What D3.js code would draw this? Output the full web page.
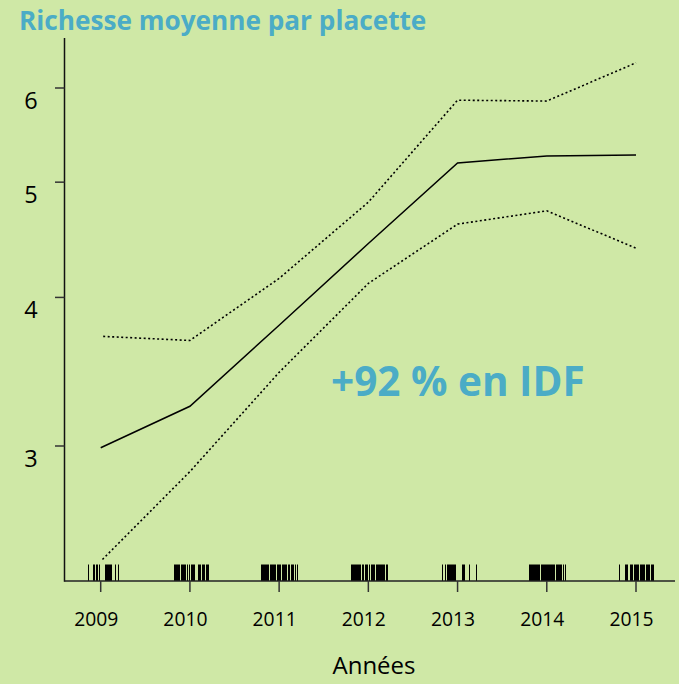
<!DOCTYPE html>
<html>
<head>
<meta charset="utf-8">
<script src="https://cdn.jsdelivr.net/npm/d3@7"></script>
<style>
  html, body { margin: 0; padding: 0; background: #cfe8a6; }
  svg { display: block; }
</style>
</head>
<body>
<svg id="chart" width="679" height="684"></svg>
<script>
// ---- data ----
const years = [2009, 2010, 2011, 2012, 2013, 2014, 2015];
const meanRichness = [2.99, 3.24, 3.79, 4.44, 5.19, 5.26, 5.27];
const upperBound  = [3.71, 3.68, 4.15, 4.81, 5.86, 5.85, 6.30];
const lowerBound  = [2.40, 2.855, 3.46, 4.11, 4.61, 4.73, 4.40];
const yTicks = [3, 4, 5, 6];
const xTickLabels = ["2009", "2010", "2011", "2012", "2013", "2014", "2015"];
const rugYears = [
  2008.854, 2008.917, 2008.928, 2008.951, 2008.962, 2008.985, 2009.045, 2009.056, 2009.067, 2009.078, 2009.096, 2009.107, 2009.118, 2009.160, 2009.194,
  2009.82, 2009.83, 2009.84, 2009.85, 2009.87, 2009.88, 2009.90, 2009.91, 2009.925, 2009.936, 2009.947, 2009.97, 2009.992, 2010.015, 2010.026, 2010.037, 2010.048, 2010.087, 2010.104, 2010.115, 2010.132, 2010.149, 2010.16, 2010.177, 2010.188, 2010.205,
  2010.794, 2010.806, 2010.818, 2010.830, 2010.842, 2010.856, 2010.868, 2010.880, 2010.893, 2010.905, 2010.918, 2010.931, 2010.945, 2010.959, 2010.973, 2010.986, 2011.0, 2011.013, 2011.027, 2011.040, 2011.054, 2011.068, 2011.082, 2011.095, 2011.108, 2011.130, 2011.145, 2011.160, 2011.175, 2011.197,
  2011.803, 2011.815, 2011.827, 2011.839, 2011.851, 2011.864, 2011.876, 2011.888, 2011.900, 2011.912, 2011.925, 2011.936, 2011.966, 2011.978, 2011.990, 2012.003, 2012.032, 2012.044, 2012.056, 2012.068, 2012.081, 2012.093, 2012.106, 2012.118, 2012.130, 2012.143, 2012.155, 2012.167, 2012.180, 2012.193, 2012.206,
  2012.821, 2012.859, 2012.881, 2012.892, 2012.904, 2012.915, 2012.926, 2012.937, 2012.948, 2012.960, 2012.971, 2013.045, 2013.056, 2013.075, 2013.128, 2013.202,
  2013.798, 2013.810, 2013.822, 2013.834, 2013.846, 2013.858, 2013.870, 2013.882, 2013.894, 2013.906, 2013.918, 2013.930, 2013.942, 2013.954, 2013.966, 2013.978, 2013.990, 2014.002, 2014.014, 2014.026, 2014.038, 2014.050, 2014.062, 2014.074, 2014.086, 2014.098, 2014.110, 2014.122, 2014.134, 2014.146, 2014.160, 2014.180, 2014.208,
  2014.813, 2014.877, 2014.888, 2014.899, 2014.933, 2014.946, 2014.960, 2014.973, 2014.986, 2015.0, 2015.013, 2015.027, 2015.040, 2015.054, 2015.067, 2015.081, 2015.094, 2015.108, 2015.121, 2015.135, 2015.150, 2015.165, 2015.180, 2015.194
];
const titleText = "Richesse moyenne par placette";
const annotationText = "+92 % en IDF";
const xAxisTitle = "Années";

// ---- layout ----
const svg = d3.select("#chart");
const accent = "#4bacc6";
const axisX = 64.5, axisY = 581, axisTop = 38, axisRight = 675;

const x = d3.scaleLinear().domain([2009, 2015]).range([100.7, 636]);
const y = d3.scaleLog().domain([3, 6]).range([446, 88]);

svg.append("rect").attr("width", 679).attr("height", 684).attr("fill", "#cfe8a6");

// title
svg.append("text")
  .attr("x", 19).attr("y", 30)
  .attr("font-family", "'Open Sans', sans-serif")
  .attr("font-weight", 700)
  .attr("font-size", 26.2)
  .attr("fill", accent)
  .text(titleText);

// rug
svg.append("g").selectAll("line").data(rugYears).join("line")
  .attr("x1", d => Math.round(x(d)) + 0.5).attr("x2", d => Math.round(x(d)) + 0.5)
  .attr("y1", 564.5).attr("y2", axisY)
  .attr("stroke", "#000").attr("stroke-width", 1);

// axes lines
svg.append("line").attr("x1", axisX).attr("x2", axisX).attr("y1", axisTop).attr("y2", axisY + 0.75)
  .attr("stroke", "#111").attr("stroke-width", 1.5);
svg.append("line").attr("x1", axisX).attr("x2", axisRight).attr("y1", axisY).attr("y2", axisY)
  .attr("stroke", "#222").attr("stroke-width", 1.6);

// y ticks
const yg = svg.append("g");
yg.selectAll("line").data(yTicks).join("line")
  .attr("x1", 55).attr("x2", axisX)
  .attr("y1", d => y(d)).attr("y2", d => y(d))
  .attr("stroke", "#333").attr("stroke-width", 1.5);
yg.selectAll("text").data(yTicks).join("text")
  .attr("x", 31).attr("y", d => y(d) + 20.5)
  .attr("text-anchor", "middle")
  .attr("font-family", "'Open Sans', sans-serif")
  .attr("font-size", 23.5)
  .attr("fill", "#000")
  .text(d => d);

// x ticks
const xg = svg.append("g");
xg.selectAll("line").data(years).join("line")
  .attr("x1", d => x(d)).attr("x2", d => x(d))
  .attr("y1", axisY).attr("y2", 592)
  .attr("stroke", "#333").attr("stroke-width", 1.5);
xg.selectAll("text").data(years).join("text")
  .attr("x", d => x(d) - 4.5).attr("y", 625.7)
  .attr("text-anchor", "middle")
  .attr("font-family", "'Open Sans', sans-serif")
  .attr("font-size", 19.3)
  .attr("fill", "#000")
  .text((d, i) => xTickLabels[i]);

// x title
svg.append("text")
  .attr("x", 374).attr("y", 674)
  .attr("text-anchor", "middle")
  .attr("font-family", "'Open Sans', sans-serif")
  .attr("font-size", 24)
  .attr("fill", "#000")
  .text(xAxisTitle);

// lines
const line = d3.line().x((d, i) => x(years[i])).y(d => y(d));
svg.append("path").datum(upperBound).attr("d", line)
  .attr("fill", "none").attr("stroke", "#000").attr("stroke-width", 1.6)
  .attr("stroke-dasharray", "2 2.5").attr("stroke-dashoffset", 2);
svg.append("path").datum(lowerBound).attr("d", line)
  .attr("fill", "none").attr("stroke", "#000").attr("stroke-width", 1.6)
  .attr("stroke-dasharray", "2 2.5").attr("stroke-dashoffset", 2);
svg.append("path").datum(meanRichness).attr("d", line)
  .attr("fill", "none").attr("stroke", "#000").attr("stroke-width", 1.5);

// annotation
svg.append("text")
  .attr("x", 331).attr("y", 396)
  .attr("font-family", "'Open Sans', sans-serif")
  .attr("font-weight", 700)
  .attr("font-size", 40.5)
  .attr("fill", accent)
  .text(annotationText);
</script>
</body>
</html>
